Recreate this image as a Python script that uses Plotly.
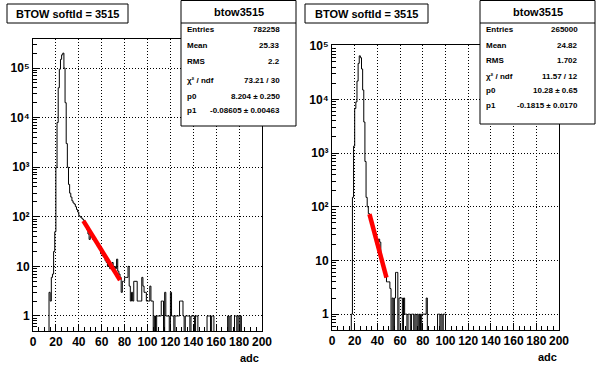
import numpy as np
import plotly.graph_objects as go

W, H = 596, 372

# ---------------- data ----------------
bin_edges = list(range(0, 201))  # 1-adc bins from 0 to 200

left_counts = [
    0, 0, 0, 0, 0, 0, 0, 0, 0, 0,
    0, 0, 0, 0, 3, 2, 6, 7, 20, 50,
    1000, 8000, 40000, 95000, 150000, 185000, 200000, 100000, 20000, 3000,
    1000, 450, 300, 250, 210, 190, 180, 160, 140, 125,
    105, 100, 95, 90, 85, 75, 65, 55, 45, 35,
    40, 45, 35, 38, 32, 30, 28, 25, 22, 18,
    19, 16, 15, 13, 12, 10, 13, 9, 10, 12,
    8, 10, 9, 14, 8, 7, 6, 3, 5, 5,
    6, 6, 6, 10, 4, 2, 3, 2, 5, 5,
    5, 2, 2, 2, 2, 6, 4, 3, 3, 2,
    2, 2, 4, 2, 2, 0, 1, 0, 1, 1,
    1, 1, 2, 2, 0, 3, 1, 1, 1, 0,
    3, 1, 1, 0, 1, 1, 1, 1, 2, 2,
    2, 1, 0, 1, 1, 1, 1, 0, 1, 1,
    1, 0, 1, 1, 0, 0, 0, 0, 0, 0,
    0, 0, 1, 1, 1, 0, 1, 1, 0, 0,
    0, 0, 0, 0, 0, 0, 0, 0, 0, 0,
    1, 0, 1, 0, 0, 0, 1, 1, 0, 1,
    0, 1, 0, 0, 0, 0, 0, 0, 0, 0,
    0, 0, 0, 0, 0, 0, 0, 0, 0, 0,
]

right_counts = [
    0, 0, 0, 0, 0, 0, 0, 0, 0, 0,
    0, 0, 0, 0, 0, 0, 0, 1, 150, 1350,
    6800, 9000, 22000, 47000, 65000, 60000, 37000, 15000, 3800, 700,
    150, 100, 75, 65, 55, 45, 40, 30, 28, 20,
    17, 25, 22, 12, 10, 8, 6, 5, 4, 4,
    4, 3, 0, 2, 0, 2, 6, 6, 0, 2,
    2, 2, 0, 2, 1, 1, 0, 1, 1, 0,
    1, 1, 0, 1, 0, 1, 0, 1, 0, 1,
    1, 1, 1, 2, 0, 0, 0, 0, 0, 0,
    0, 0, 0, 1, 1, 0, 1, 0, 1, 1,
] + [0] * 100

left_fit_range = [44, 76]
right_fit_range = [33, 48]
left_fit_params = [8.204, -0.08605]
right_fit_params = [10.28, -0.1815]

x_tick_labels = ["0", "20", "40", "60", "80", "100", "120", "140", "160", "180", "200"]
y_tick_vals = [1, 10, 100, 1000, 10000, 100000]
y_tick_text = ["1", "10", "10²", "10³", "10⁴", "10⁵"]

title_text = "BTOW softId = 3515"
stats_name = "btow3515"
left_stats_labels = ["Entries", "Mean", "RMS", "χ² / ndf", "p0", "p1"]
left_stats_values = ["782258", "25.33", "2.2", "73.21 / 30", "8.204 ± 0.250", "-0.08605 ± 0.00463"]
right_stats_labels = ["Entries", "Mean", "RMS", "χ² / ndf", "p0", "p1"]
right_stats_values = ["265000", "24.82", "1.702", "11.57 / 12", "10.28 ± 0.65", "-0.1815 ± 0.0170"]

# ---------------- helpers ----------------
def px(x):
    return x / W

def py(y):
    return 1 - y / H

FONT = "Liberation Sans, Arial, Helvetica, sans-serif"
FLOOR = 0.05  # empty bins drawn at the frame bottom (clipped)

def step_xy(counts):
    c = np.array(counts, dtype=float)
    c = np.where(c > 0, c, FLOOR)
    xs = np.array(bin_edges, dtype=float)
    ys = np.append(c, c[-1])
    return xs, ys

fig = go.Figure()

panels = [
    dict(counts=left_counts, fit=left_fit_range, par=left_fit_params,
         xd=[33, 262], yd=[39, 331], yr=[-0.303, 5.586], xa="x", ya="y"),
    dict(counts=right_counts, fit=right_fit_range, par=right_fit_params,
         xd=[332, 559], yd=[45, 330], yr=[-0.295, 5.015], xa="x2", ya="y2"),
]

minor_y = [m * 10 ** d for d in range(-1, 6) for m in range(2, 10)]

for i, p in enumerate(panels):
    xs, ys = step_xy(p["counts"])
    fig.add_trace(go.Scatter(x=xs, y=ys, mode="lines", line_shape="hv",
                             line=dict(color="black", width=1),
                             xaxis=p["xa"], yaxis=p["ya"], hoverinfo="skip"))
    fx = np.array(p["fit"], dtype=float)
    fy = np.exp(p["par"][0] + p["par"][1] * fx)
    fig.add_trace(go.Scatter(x=fx, y=fy, mode="lines",
                             line=dict(color="#ff0000", width=4.5),
                             xaxis=p["xa"], yaxis=p["ya"], hoverinfo="skip"))

    suffix = "" if i == 0 else "2"
    xaxis = dict(
        domain=[px(p["xd"][0]), px(p["xd"][1])],
        range=[0, 200], tickmode="array",
        tickvals=[int(t) for t in x_tick_labels], ticktext=x_tick_labels,
        tickangle=0, automargin=False,
        ticks="inside", ticklen=7, tickwidth=1, tickcolor="black",
        showline=True, linecolor="black", linewidth=1, mirror=True,
        showgrid=True, gridcolor="black", gridwidth=1, griddash="1px,2px",
        zeroline=False,
        tickfont=dict(family=FONT, size=12, color="black", weight="bold"),
        minor=dict(dtick=5, tick0=0, ticks="inside", ticklen=4, tickcolor="black", showgrid=False),
        anchor="y" + suffix,
    )
    yaxis = dict(
        domain=[py(p["yd"][1]), py(p["yd"][0])],
        type="log", range=p["yr"], tickmode="array",
        tickvals=y_tick_vals, ticktext=y_tick_text,
        tickangle=0, automargin=False,
        ticks="inside", ticklen=7, tickwidth=1, tickcolor="black",
        showline=True, linecolor="black", linewidth=1, mirror=True,
        showgrid=True, gridcolor="black", gridwidth=1, griddash="1px,2px",
        zeroline=False,
        tickfont=dict(family=FONT, size=12, color="black", weight="bold"),
        minor=dict(tickmode="array", tickvals=minor_y, ticks="inside", ticklen=4,
                   tickcolor="black", showgrid=False),
        anchor="x" + suffix,
    )
    fig.layout["xaxis" + suffix] = xaxis
    fig.layout["yaxis" + suffix] = yaxis

shapes = []
annotations = []

def add_box(x0, y0, x1, y1):
    shapes.append(dict(type="rect", xref="paper", yref="paper",
                       x0=px(x0), x1=px(x1), y0=py(y1), y1=py(y0),
                       fillcolor="white", line=dict(color="black", width=1), layer="above"))

def add_text(x, y, text, size, xanchor="center", bold=True):
    annotations.append(dict(x=px(x), y=py(y), xref="paper", yref="paper",
                            text=text, showarrow=False, xanchor=xanchor, yanchor="middle",
                            font=dict(family=FONT, size=size, color="black",
                                      weight="bold" if bold else "normal")))

# title boxes
add_box(7, 4, 128, 23)
add_text(67.5, 14, title_text, 11)
add_box(305, 4, 428, 23)
add_text(366.5, 14, title_text, 11)

# stats boxes
stat_boxes = [
    dict(x0=181, x1=296, y1=126, lab=left_stats_labels, val=left_stats_values,
         lx=185, vx=282, rows=[29.5, 45.5, 61.7, 80.0, 96.0, 110.5]),
    dict(x0=480, x1=595, y1=124, lab=right_stats_labels, val=right_stats_values,
         lx=484, vx=580, rows=[29.3, 45.7, 60.8, 76.0, 90.8, 105.7]),
]
for sb in stat_boxes:
    add_box(sb["x0"], 0.5, sb["x1"], sb["y1"])
    shapes.append(dict(type="line", xref="paper", yref="paper",
                       x0=px(sb["x0"]), x1=px(sb["x1"]), y0=py(23), y1=py(23),
                       line=dict(color="black", width=1), layer="above"))
    add_text((sb["x0"] + sb["x1"]) / 2, 12, stats_name, 11)
    for lab, val, ry in zip(sb["lab"], sb["val"], sb["rows"]):
        add_text(sb["lx"], ry, lab, 8, xanchor="left")
        add_text(sb["vx"], ry, val, 8, xanchor="right")

# axis titles
add_text(249, 358, "adc", 11)
add_text(547, 357, "adc", 11)

fig.update_layout(
    template="none",
    width=W, height=H, autosize=False,
    margin=dict(l=0, r=0, t=0, b=0, pad=0, autoexpand=False),
    paper_bgcolor="white", plot_bgcolor="white",
    showlegend=False, hovermode=False,
    shapes=shapes, annotations=annotations,
)

fig.write_html(
    "out.html",
    config={"displayModeBar": False, "staticPlot": True},
    post_script="document.body.style.margin='0';document.body.style.padding='0';document.body.style.overflow='hidden';",
)
